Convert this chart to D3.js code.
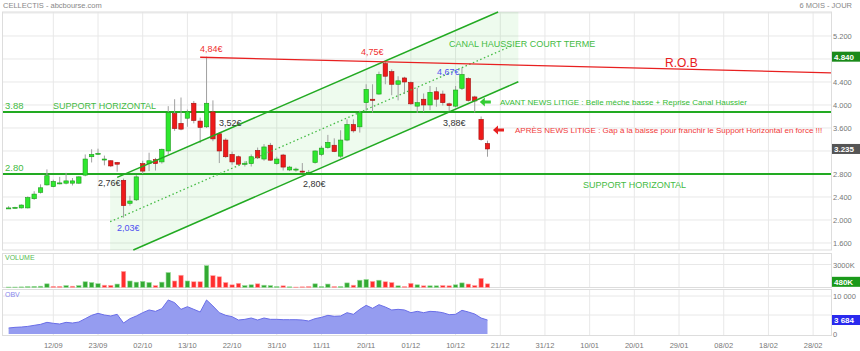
<!DOCTYPE html>
<html><head><meta charset="utf-8">
<script src="https://cdn.jsdelivr.net/npm/d3@7/dist/d3.min.js"></script>
<style>
body { margin: 0; background: #fff; }
svg { display: block; font-family: "Liberation Sans", Arial, sans-serif; }
</style></head>
<body>
<svg id="chart" width="860" height="351"></svg>
<script>
// daily candles, index 0 = first session shown
var opens  = [2.21,2.21,2.21,2.21,2.37,2.48,2.61,2.58,2.64,2.64,2.64,2.64,2.78,3.10,3.15,3.06,3.03,3.00,2.69,2.29,
              2.35,2.98,2.98,3.05,3.01,3.20,3.85,3.68,3.77,4.03,3.72,3.62,3.88,3.50,3.39,3.14,3.10,2.98,2.98,3.21,
              3.06,3.30,2.98,3.13,2.87,2.88,2.85,2.83,3.00,3.14,3.26,3.30,3.11,3.39,3.66,3.62,4.04,4.10,4.19,4.72,
              4.58,4.36,4.47,4.39,3.98,4.10,4.00,4.23,4.19,4.02,3.98,4.29,4.46,4.14,3.75,3.33];
var highs  = [2.24,2.23,2.27,2.41,2.50,2.62,2.88,2.70,2.75,2.82,2.73,2.76,3.14,3.23,3.24,3.12,3.04,3.01,2.72,2.42,
              2.78,3.03,3.17,3.08,3.24,3.98,4.10,4.13,3.92,4.07,3.78,4.84,4.08,3.53,3.42,3.19,3.12,3.02,3.14,3.26,
              3.32,3.34,3.10,3.15,2.94,2.91,2.99,2.87,3.21,3.29,3.48,3.42,3.56,3.75,3.75,3.90,4.36,4.36,4.58,4.75,
              4.62,4.50,4.49,4.41,4.30,4.20,4.33,4.31,4.25,4.04,4.33,4.65,4.48,4.16,3.80,3.38];
var lows   = [2.20,2.20,2.20,2.20,2.35,2.46,2.60,2.57,2.62,2.62,2.60,2.63,2.76,3.00,3.13,2.95,2.92,2.84,2.04,2.25,
              2.33,2.80,2.85,2.86,2.98,3.14,3.55,3.56,3.62,3.68,3.34,3.60,3.37,2.99,3.08,2.96,2.96,2.93,2.93,3.06,
              3.03,3.03,2.96,2.86,2.85,2.84,2.82,2.80,2.98,3.11,3.24,3.18,3.08,3.37,3.52,3.52,3.90,3.87,4.18,4.36,
              4.17,4.08,4.19,4.00,3.86,3.88,3.91,3.97,3.99,3.88,3.96,4.26,4.06,3.87,3.38,3.10];
var closes = [2.21,2.22,2.26,2.39,2.45,2.56,2.77,2.67,2.645,2.68,2.68,2.75,3.06,3.14,3.16,3.06,2.94,2.97,2.25,2.33,
              2.75,2.85,3.03,2.98,3.23,3.87,3.59,3.58,3.88,3.73,3.61,4.03,3.41,3.20,3.10,3.01,2.97,2.985,3.10,3.08,
              3.27,3.04,3.06,2.92,2.92,2.885,2.845,2.83,3.20,3.25,3.35,3.19,3.39,3.66,3.55,3.87,4.27,4.08,4.53,4.50,
              4.36,4.42,4.40,4.02,4.04,4.00,4.22,4.10,4.04,3.99,4.26,4.53,4.08,4.07,3.40,3.235];

// volume in thousands, u = up day (green), d = down day (red)
var volumes = [60,60,80,120,150,170,480,150,150,250,170,250,750,650,500,300,280,450,2100,850,
               700,800,650,250,700,1950,850,1600,850,750,750,2850,1550,1400,650,350,550,250,350,480,
               300,250,130,220,90,60,90,130,480,130,450,130,130,600,300,950,1050,800,950,750,
               650,220,130,550,350,220,220,220,260,220,350,600,450,260,1200,480];
var volDir = ["u","u","u","u","u","u","u","d","d","u","d","u","u","u","u","d","d","u","d","u",
              "u","u","u","d","u","u","d","d","u","d","d","u","d","d","d","d","d","u","u","d",
              "u","u","u","d","u","d","d","d","u","u","u","d","u","u","d","u","u","d","u","d",
              "d","u","d","d","u","d","u","u","d","d","u","u","d","d","d","d"];

var obv = [1580,1750,1840,2000,2280,2540,3070,2810,2630,3070,2890,3160,4040,4910,5440,5000,4740,5180,2890,4040,
           4740,5610,6320,5960,6670,8950,8250,6490,7190,6490,5790,8950,7370,5610,4910,4560,3680,3860,4210,3680,
           4210,3860,3860,3770,3770,3770,3680,3420,4040,4390,4910,4650,4740,5610,5180,6490,7540,6760,7720,7100,
           6320,6490,6320,5610,5960,5610,5960,5870,5610,5090,5180,6230,5790,5260,4210,3684];

var dateLabels = ["12/09","23/09","02/10","13/10","22/10","31/10","11/11","20/11","01/12",
                  "10/12","21/12","31/12","10/01","20/01","29/01","08/02","18/02","28/02"];
var dateIdx = [7,14,21,28,35,42,49,56,63,70,77,84,91,98,105,112,119,126];

var priceTicks = [1.6,2.0,2.4,2.8,3.2,3.6,4.0,4.4,4.8,5.2,5.6];
var volTicks = [0,3000];
var obvTicks = [0,5000,10000];

var supports = [3.88, 2.80];
var lastPrice = 3.235, markPrice = 4.84;

// drawn lines: [i, price] pairs
var robLine = [[30, 4.83], [128.8, 4.56]];
var chanUpper = [[17, 2.74], [76.66, 5.617]];
var chanMid = [[15.9, 1.97], [78.84, 5.031]];
var chanLower = [[19.53, 1.478], [79.83, 4.405]];
var chanFill = [[15.9, 2.687], [76.66, 5.617], [79.83, 5.617], [79.83, 4.405], [19.53, 1.478], [15.9, 1.478]];

// price labels on the chart: text, i, price, colour
var notes = [
  ["4,84€", 29.98, 4.93, "#f03030"],
  ["4,75€", 55.2, 4.861, "#f03030"],
  ["4,67€", 67.1, 4.53, "#5050f0"],
  ["3,52€", 32.95, 3.626, "#333"],
  ["2,76€", 14.0, 2.583, "#333"],
  ["2,03€", 16.98, 1.817, "#5050f0"],
  ["2,80€", 46.1, 2.565, "#333"],
  ["3,88€", 68.03, 3.626, "#333"]
];

var W = 860, H = 351;
var svg = d3.select("#chart");

var x = d3.scaleLinear().domain([-0.88, 128.8]).range([3, 831]);
var y = d3.scaleLinear().domain([1.478, 5.617]).range([250, 12]);
var yv = d3.scaleLinear().domain([0, 3000]).range([287.5, 264.5]);
var yo = d3.scaleLinear().domain([0, 10000]).range([334, 296]);

var GREEN = "#22aa22", RED = "#e82020", GRID = "#e8e8e8";
var panels = [[12, 250], [253.5, 287.5], [289.5, 335.5]];

// header
svg.append("text").attr("x", 3).attr("y", 8).attr("font-size", 7.5).attr("fill", "#888")
  .text("CELLECTIS - abcbourse.com");
svg.append("text").attr("x", 852).attr("y", 8).attr("font-size", 7.5).attr("fill", "#888")
  .attr("text-anchor", "end").text("6 MOIS - JOUR");

// vertical grid through every panel
dateIdx.forEach(function(d) {
  panels.forEach(function(p) {
    svg.append("line").attr("x1", x(d)).attr("x2", x(d)).attr("y1", p[0]).attr("y2", p[1])
      .attr("stroke", GRID).attr("stroke-width", 1);
  });
});

// horizontal grid
priceTicks.forEach(function(t) {
  svg.append("line").attr("x1", 3).attr("x2", 831).attr("y1", y(t)).attr("y2", y(t))
    .attr("stroke", GRID);
});
svg.append("line").attr("x1", 3).attr("x2", 831).attr("y1", yv(3000)).attr("y2", yv(3000)).attr("stroke", GRID);
[5000, 10000].forEach(function(t) {
  svg.append("line").attr("x1", 3).attr("x2", 831).attr("y1", yo(t)).attr("y2", yo(t)).attr("stroke", GRID);
});

panels.forEach(function(p) {
  svg.append("rect").attr("x", 2.5).attr("y", p[0]).attr("width", 829).attr("height", p[1] - p[0])
    .attr("fill", "none").attr("stroke", "#ddd");
});

// channel shading
var line = d3.line().x(function(d) { return x(d[0]); }).y(function(d) { return y(d[1]); });
svg.append("path").attr("d", line(chanFill) + "Z").attr("fill", "rgba(40,210,40,0.08)");

var main = svg.append("g");

// support lines
supports.forEach(function(s) {
  main.append("line").attr("x1", 3).attr("x2", 831).attr("y1", y(s)).attr("y2", y(s))
    .attr("stroke", GREEN).attr("stroke-width", 2);
});

// candles
var idx = d3.range(closes.length);
var bw = 4.4;
main.selectAll(".wick").data(idx).enter().append("line")
  .attr("x1", function(i) { return x(i); }).attr("x2", function(i) { return x(i); })
  .attr("y1", function(i) { return y(highs[i]); }).attr("y2", function(i) { return y(lows[i]); })
  .attr("stroke", "#a0a0a0").attr("stroke-width", 1);
main.selectAll(".body").data(idx).enter().append("rect")
  .attr("x", function(i) { return x(i) - bw / 2; })
  .attr("y", function(i) { return y(Math.max(opens[i], closes[i])); })
  .attr("width", bw)
  .attr("height", function(i) { return Math.max(1, Math.abs(y(opens[i]) - y(closes[i]))); })
  .attr("fill", function(i) { return closes[i] >= opens[i] ? "#2ee82e" : "#ee1a1a"; })
  .attr("stroke", function(i) { return closes[i] >= opens[i] ? "#1c9a1c" : "#a01010"; })
  .attr("stroke-width", 0.6);

// channel lines
main.append("path").attr("d", line(chanUpper)).attr("stroke", GREEN).attr("stroke-width", 1.5).attr("fill", "none");
main.append("path").attr("d", line(chanLower)).attr("stroke", GREEN).attr("stroke-width", 1.5).attr("fill", "none");
main.append("path").attr("d", line(chanMid)).attr("stroke", "#44bb44").attr("stroke-width", 1.3)
  .attr("stroke-dasharray", "1.5,2.5").attr("fill", "none");

// R.O.B resistance
main.append("path").attr("d", line(robLine)).attr("stroke", RED).attr("stroke-width", 1.3).attr("fill", "none");

// annotations
var txt = function(s, px, py, size, col) {
  return svg.append("text").attr("x", px).attr("y", py).attr("font-size", size).attr("fill", col).text(s);
};
notes.forEach(function(n) { txt(n[0], x(n[1]), y(n[2]), 9, n[3]); });

txt("3.88", 5, y(3.88) - 3, 9.5, "#44bb44");
txt("SUPPORT HORIZONTAL", 53, y(3.88) - 3, 9, "#44bb44");
txt("2.80", 5, y(2.80) - 3, 9.5, "#44bb44");
txt("SUPPORT HORIZONTAL", 583, y(2.80) + 14, 9, "#44bb44");
txt("CANAL HAUSSIER COURT TERME", x(68.97), y(5.003), 9, "#44bb44");
txt("R.O.B", x(102.8), y(4.652), 12, RED);

var arrow = function(i, p, col) {
  var ax = x(i), ay = y(p);
  svg.append("path")
    .attr("d", "M" + ax + "," + ay + "l5,-4.5v3h6v3h-6v3z")
    .attr("fill", col);
};
arrow(73.8, 4.052, "#33cc33");
txt("AVANT NEWS LITIGE : Belle mèche basse + Reprise Canal Haussier", 500, y(4.052) + 3, 8, "#33bb33");
arrow(75.86, 3.565, RED);
txt("APRÈS NEWS LITIGE : Gap à la baisse pour franchir le Support Horizontal en force !!!", 515, y(3.565) + 3, 8, "#f03a3a");

// right price axis
var marks = [y(markPrice), y(lastPrice)];
priceTicks.forEach(function(t) {
  var ty = y(t);
  if (t > 5.4) return;
  if (marks.some(function(m) { return Math.abs(m - ty) < 8; })) return;
  txt(d3.format(".3f")(t), 833, ty + 3, 7.5, "#777");
});
var tag = function(val, py, col) {
  svg.append("rect").attr("x", 832).attr("y", py - 5).attr("width", 28).attr("height", 10).attr("fill", col);
  svg.append("text").attr("x", 834).attr("y", py + 3).attr("font-size", 8).attr("font-weight", "bold")
    .attr("fill", "#fff").text(val);
};
tag(d3.format(".3f")(markPrice), y(markPrice), "#1a8a1a");
tag(d3.format(".3f")(lastPrice), y(lastPrice), "#555");

// volume
txt("VOLUME", 5, 260, 7, "#55bb55");
svg.selectAll(".vol").data(idx).enter().append("rect")
  .attr("x", function(i) { return x(i) - bw / 2; })
  .attr("y", function(i) { return yv(volumes[i]); })
  .attr("width", bw)
  .attr("height", function(i) { return yv(0) - yv(volumes[i]); })
  .attr("fill", function(i) { return volDir[i] === "u" ? "#33aa33" : "#ff2e2e"; })
  .attr("stroke", function(i) { return volDir[i] === "u" ? "#99dd99" : "#ffaaaa"; })
  .attr("stroke-width", 0.6);
txt("3000K", 833, yv(3000) + 3, 7.5, "#777");
tag(volumes[volumes.length - 1] + "K", yv(volumes[volumes.length - 1]) - 2, "#1a9a1a");

// OBV
var area = d3.area().x(function(d, i) { return x(i); }).y0(yo(0)).y1(function(d) { return yo(d); });
svg.append("path").datum(obv).attr("d", area).attr("fill", "#959cf0");
svg.append("path").datum(obv)
  .attr("d", d3.line().x(function(d, i) { return x(i); }).y(function(d) { return yo(d); }))
  .attr("fill", "none").attr("stroke", "#6a6ee8").attr("stroke-width", 1);
txt("OBV", 5, 297, 7, "#8888ee");
txt("10 000", 833, yo(10000) + 3, 7.5, "#777");
txt("0", 833, yo(0) + 3, 7.5, "#777");
tag(d3.format(",")(obv[obv.length - 1]).replace(",", " "), yo(obv[obv.length - 1]), "#2a2aee");

// date axis
dateIdx.forEach(function(d, k) {
  svg.append("text").attr("x", x(d)).attr("y", 348).attr("font-size", 7.5).attr("fill", "#777")
    .attr("text-anchor", "middle").text(dateLabels[k]);
});
</script>
</body></html>
